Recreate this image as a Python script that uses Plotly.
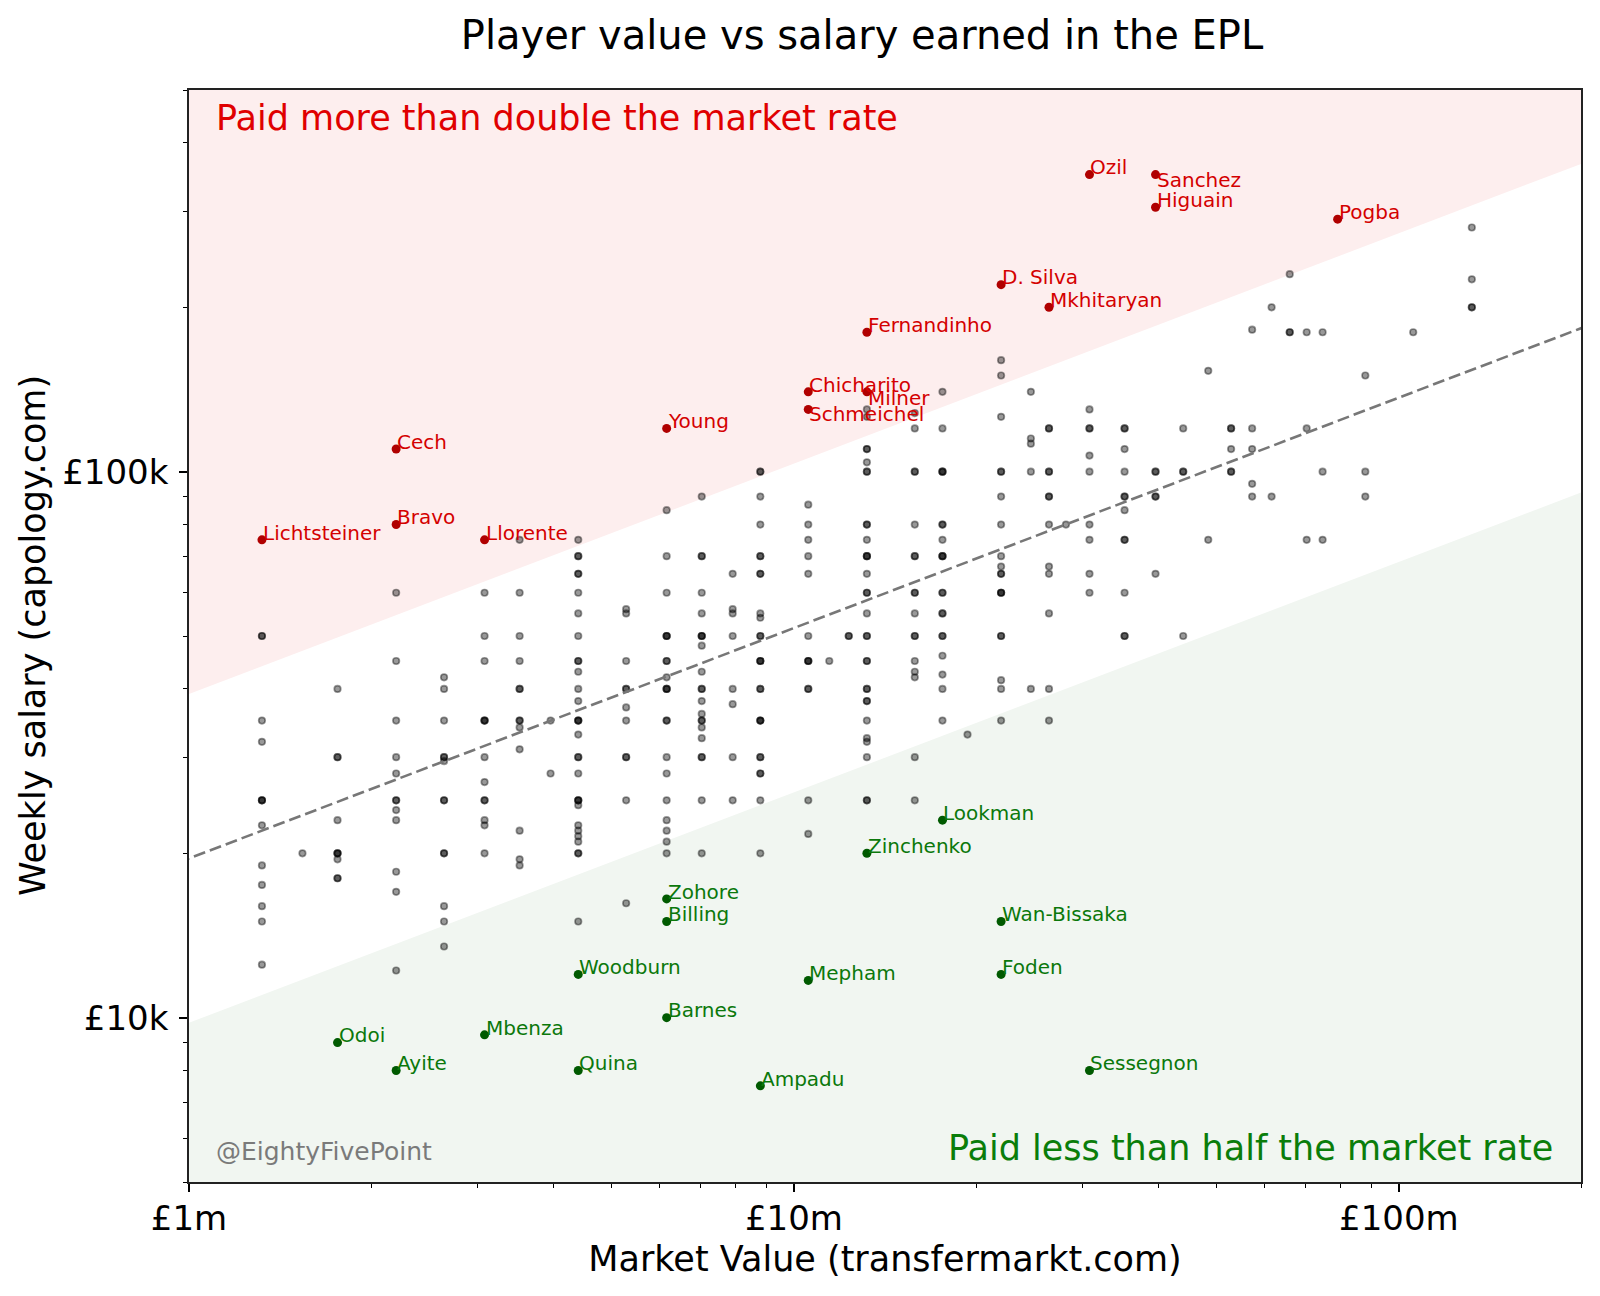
import numpy as np
import plotly.graph_objects as go

# ---------------- data ----------------
# market value columns (£m) and the weekly salaries (£k) of the unlabelled players in each column
col_value_m = [1.32, 1.54, 1.76, 2.2, 2.64, 3.08, 3.52, 3.96, 4.4, 5.28, 6.16, 7.04, 7.92, 8.8,
               10.56, 11.44, 12.32, 13.2, 15.84, 17.6, 19.36, 22, 24.64, 26.4, 28.16, 30.8, 35.2,
               39.6, 44, 48.4, 52.8, 57.2, 61.6, 66, 70.4, 74.8, 88, 105.6, 132]
col_salary_k = [
    [50, 50, 35, 32, 25, 25, 25, 22.5, 19, 17.5, 16, 15, 12.5],
    [20],
    [40, 30, 30, 23, 20, 20, 20, 19.5, 18, 18],
    [60, 45, 35, 30, 28, 25, 25, 24, 23, 18.5, 17, 12.2],
    [42, 40, 35, 30, 30, 29.5, 25, 25, 20, 20, 16, 15, 13.5],
    [60, 50, 45, 35, 35, 35, 30, 27, 25, 25, 23, 22.5, 20],
    [75, 60, 50, 45, 40, 40, 35, 35, 34, 31, 22, 19.5, 19],
    [35, 28],
    [75, 70, 70, 65, 65, 60, 55, 50, 45, 45, 43, 40, 38, 35, 35, 35, 33, 30, 30, 28, 25, 25, 25,
     24.5, 22.5, 22, 21.5, 21, 20, 20, 15],
    [56, 55, 45, 40, 40, 37, 35, 30, 30, 25, 16.2],
    [85, 70, 60, 50, 50, 50, 45, 45, 42, 40, 40, 40, 35, 35, 30, 28, 25, 23, 22, 21, 20],
    [90, 70, 70, 60, 55, 50, 50, 50, 48, 43, 40, 40, 38, 36, 35, 35, 34, 32.5, 30, 30, 25, 20],
    [65, 56, 55, 50, 40, 37.5, 30, 25],
    [100, 100, 90, 80, 70, 70, 65, 65, 55, 54, 50, 50, 45, 45, 45, 40, 40, 35, 35, 35, 30, 30,
     28, 28, 25, 20],
    [87, 80, 75, 70, 65, 50, 45, 45, 45, 40, 40, 25, 21.7],
    [45],
    [50, 50],
    [130, 126, 110, 110, 104, 100, 100, 80, 80, 75, 70, 70, 70, 65, 60, 60, 55, 50, 50, 45, 45,
     40, 40, 38, 38, 35, 32.5, 32, 30, 25, 25],
    [128, 120, 100, 100, 80, 70, 70, 60, 60, 55, 50, 50, 45, 43, 42, 30, 25],
    [140, 120, 100, 100, 100, 80, 80, 75, 70, 70, 70, 60, 60, 55, 55, 50, 50, 46, 42.5, 40, 35],
    [33],
    [160, 150, 126, 100, 100, 90, 80, 70, 67, 65, 65, 60, 60, 60, 50, 50, 41.5, 40, 35],
    [140, 115, 112.5, 100, 40],
    [120, 120, 100, 100, 90, 90, 80, 67, 65, 55, 40, 35],
    [80],
    [130, 120, 120, 107, 100, 80, 75, 65, 60],
    [120, 120, 110, 100, 90, 90, 85, 75, 75, 60, 50, 50],
    [100, 100, 90, 90, 65],
    [120, 100, 100, 50],
    [153, 75],
    [120, 120, 110, 100, 100],
    [182, 120, 110, 95, 90],
    [200, 90],
    [230, 180, 180],
    [180, 120, 75],
    [180, 100, 75],
    [150, 100, 90],
    [180],
    [280, 225, 200, 200],
]

red_names = ["Ozil", "Sanchez", "Higuain", "Pogba", "D. Silva", "Mkhitaryan", "Fernandinho",
             "Chicharito", "Milner", "Schmeichel", "Young", "Cech", "Bravo", "Lichtsteiner", "Llorente"]
red_value_m = [30.8, 39.6, 39.6, 79.2, 22, 26.4, 13.2, 10.56, 13.2, 10.56, 6.16, 2.2, 2.2, 1.32, 3.08]
red_salary_k = [350, 350, 305, 290, 220, 200, 180, 140, 140, 130, 120, 110, 80, 75, 75]

green_names = ["Lookman", "Zinchenko", "Zohore", "Billing", "Wan-Bissaka", "Woodburn", "Foden",
               "Mepham", "Barnes", "Odoi", "Mbenza", "Ayite", "Quina", "Sessegnon", "Ampadu"]
green_value_m = [17.6, 13.2, 6.16, 6.16, 22, 4.4, 22, 10.56, 6.16, 1.76, 3.08, 2.2, 4.4, 30.8, 8.8]
green_salary_k = [23, 20, 16.5, 15, 15, 12, 12, 11.7, 10, 9, 9.3, 8, 8, 8, 7.5]

# fitted trend: salary = FIT_AT_1M * value_m ** FIT_SLOPE
FIT_SLOPE = 0.422
FIT_AT_1M = 19570

x_ticks = [1, 10, 100]
x_tick_text = ["£1m", "£10m", "£100m"]
y_ticks = [10000, 100000]
y_tick_text = ["£10k", "£100k"]

# ---------------- figure ----------------
FONT = "DejaVu Sans"
X_RANGE = (1, 200)
Y_RANGE = (5000, 500000)

# labels that were nudged below their point in the original
label_dy = {"Sanchez": -13, "Milner": -13, "Schmeichel": -12}


def fit(x):
    return FIT_AT_1M * np.asarray(x, dtype=float) ** FIT_SLOPE


fig = go.Figure()

xe = np.array([0.8, 260.0])
up = 2 * fit(xe)
lo = 0.5 * fit(xe)
fig.add_trace(go.Scatter(x=[xe[0], xe[1], xe[1], xe[0]], y=[up[0], up[1], 2e6, 2e6],
                         mode="lines", fill="toself", fillcolor="#fdeeee",
                         line=dict(width=0), hoverinfo="skip"))
fig.add_trace(go.Scatter(x=[xe[0], xe[1], xe[1], xe[0]], y=[lo[0], lo[1], 1000, 1000],
                         mode="lines", fill="toself", fillcolor="#f1f6f1",
                         line=dict(width=0), hoverinfo="skip"))

gx, gy = [], []
for v, sal in zip(col_value_m, col_salary_k):
    for s in sal:
        gx.append(v)
        gy.append(s * 1000)
fig.add_trace(go.Scatter(x=gx, y=gy, mode="markers",
                         marker=dict(size=6.5, color="rgba(0,0,0,0.4)",
                                     line=dict(width=1.7, color="rgba(0,0,0,0.4)")),
                         hoverinfo="skip"))

fig.add_trace(go.Scatter(x=xe, y=fit(xe), mode="lines",
                         line=dict(color="#777777", width=2.6, dash="12px,5px"),
                         hoverinfo="skip"))

fig.add_trace(go.Scatter(x=red_value_m, y=[s * 1000 for s in red_salary_k], mode="markers",
                         marker=dict(size=9, color="#b00000"), hoverinfo="skip"))
fig.add_trace(go.Scatter(x=green_value_m, y=[s * 1000 for s in green_salary_k], mode="markers",
                         marker=dict(size=9, color="#005a00"), hoverinfo="skip"))

ann = []
LBL = 20
for names, vals, sals, col in [(red_names, red_value_m, red_salary_k, "#d40000"),
                               (green_names, green_value_m, green_salary_k, "#0b780b")]:
    for n, v, s in zip(names, vals, sals):
        ann.append(dict(x=np.log10(v), y=np.log10(s * 1000), xref="x", yref="y", text=n,
                        showarrow=False, xanchor="left", yanchor="middle",
                        xshift=-1, yshift=0.365 * LBL + label_dy.get(n, 0),
                        font=dict(family=FONT, size=LBL, color=col)))

ann.append(dict(x=0, y=1, xref="paper", yref="paper", text="Paid more than double the market rate",
                showarrow=False, xanchor="left", yanchor="middle", xshift=25, yshift=-28,
                font=dict(family=FONT, size=35, color="#e00000")))
ann.append(dict(x=1, y=0, xref="paper", yref="paper", text="Paid less than half the market rate",
                showarrow=False, xanchor="right", yanchor="middle", xshift=-26, yshift=34.5,
                font=dict(family=FONT, size=35, color="#0a7d0a")))
ann.append(dict(x=0, y=0, xref="paper", yref="paper", text="@EightyFivePoint",
                showarrow=False, xanchor="left", yanchor="middle", xshift=25, yshift=30.5,
                font=dict(family=FONT, size=25, color="#7a7a7a")))
ann.append(dict(x=0, y=0.5, xref="paper", yref="paper", text="Weekly salary (capology.com)",
                showarrow=False, xanchor="center", yanchor="middle", xshift=-156, textangle=-90,
                font=dict(family=FONT, size=35, color="black")))

x_minor = [2, 3, 4, 5, 6, 7, 8, 9, 20, 30, 40, 50, 60, 70, 80, 90, 200]
y_minor = [5000, 6000, 7000, 8000, 9000, 20000, 30000, 40000, 50000, 60000, 70000, 80000, 90000,
           200000, 300000, 400000, 500000]

# the page body adds an 8px offset, so the figure is laid out 8px up/left
PAGE_OFF = 8
fig.update_layout(
    width=1600, height=1296,
    margin=dict(l=188.5 - PAGE_OFF, r=1600 - (1581 - PAGE_OFF), t=89.5 - PAGE_OFF,
                b=1296 - (1182 - PAGE_OFF), autoexpand=False),
    plot_bgcolor="white", paper_bgcolor="white",
    showlegend=False, hovermode=False,
    font=dict(family=FONT, color="black"),
    title=dict(text="Player value vs salary earned in the EPL", x=(862 - PAGE_OFF) / 1600,
               xanchor="center", y=1 - (35.4 - PAGE_OFF) / 1296, yanchor="middle",
               font=dict(family=FONT, size=40, color="black")),
    annotations=ann,
)
axis_common = dict(type="log", ticks="outside", ticklen=8, tickwidth=1.5, tickcolor="black",
                   showline=True, linecolor="#222222", linewidth=1.5, mirror=True,
                   showgrid=False, zeroline=False, tickfont=dict(family=FONT, size=34, color="black"))
fig.update_xaxes(range=[np.log10(X_RANGE[0]), np.log10(X_RANGE[1])], tickvals=x_ticks,
                 ticktext=x_tick_text, ticklabelstandoff=-3,
                 title=dict(text="Market Value (transfermarkt.com)", standoff=10,
                            font=dict(family=FONT, size=35, color="black")),
                 minor=dict(tickvals=x_minor, ticks="outside", ticklen=4.5, tickwidth=1.2,
                            tickcolor="black", showgrid=False),
                 **axis_common)
fig.update_yaxes(range=[np.log10(Y_RANGE[0]), np.log10(Y_RANGE[1])], tickvals=y_ticks,
                 ticktext=y_tick_text, ticklabelstandoff=4,
                 minor=dict(tickvals=y_minor, ticks="outside", ticklen=4.5, tickwidth=1.2,
                            tickcolor="black", showgrid=False),
                 **axis_common)

fig.write_html("out.html")
